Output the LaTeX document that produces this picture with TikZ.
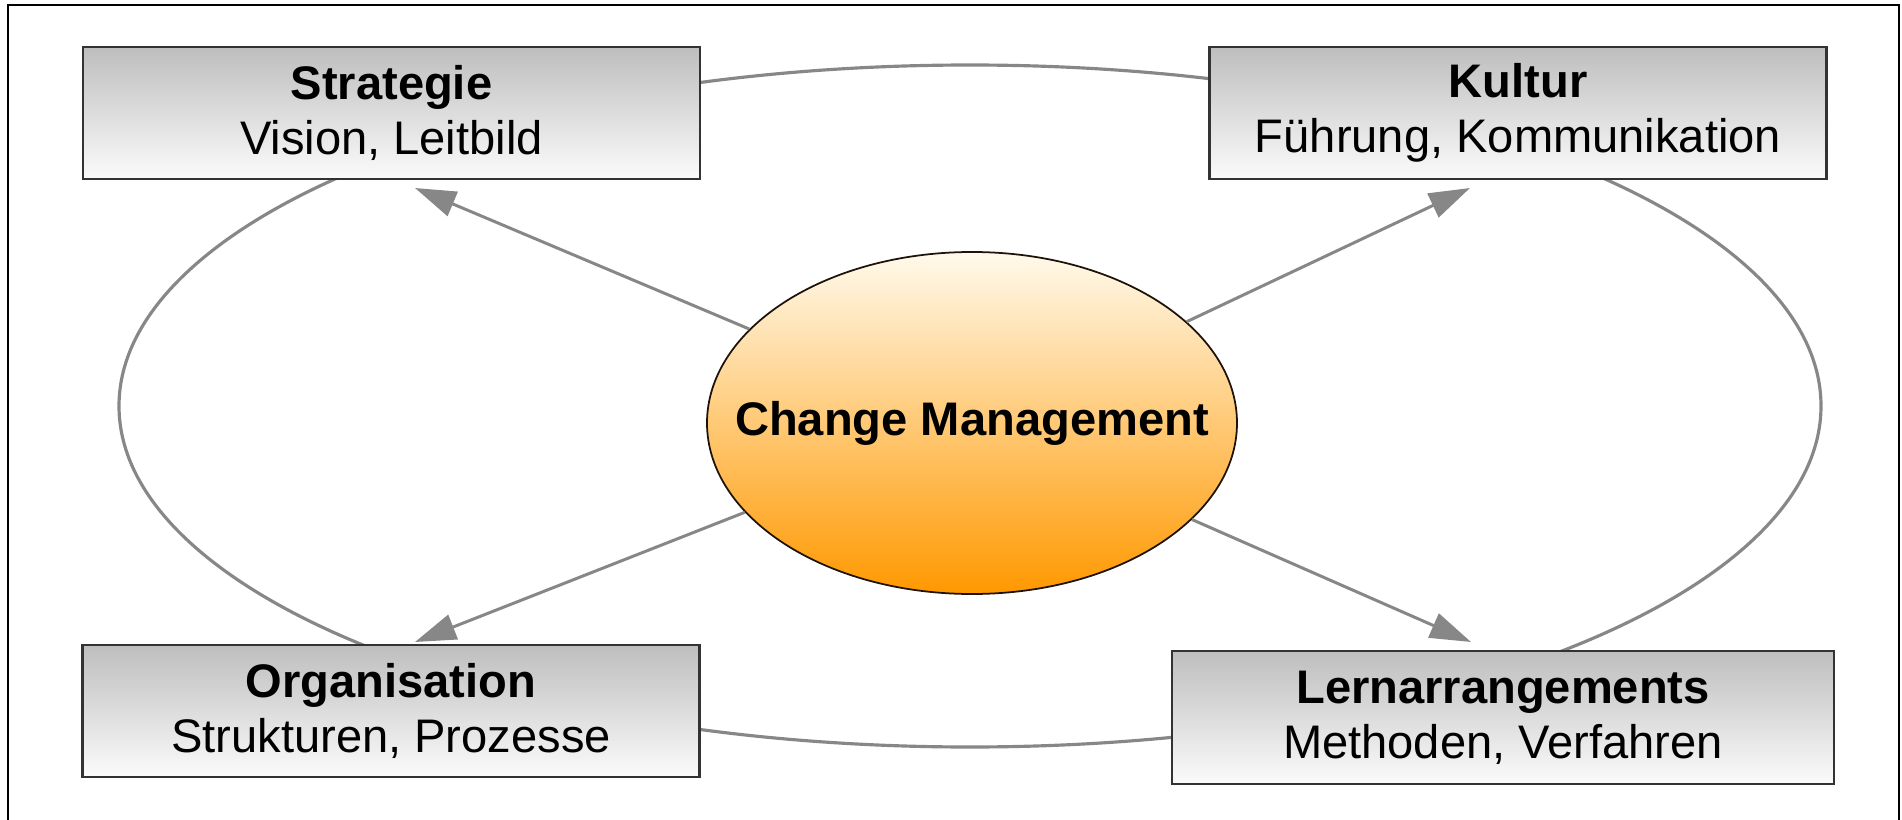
\documentclass[tikz,border=0pt]{standalone}
\usepackage{fontspec}
\setmainfont{Liberation Sans}
\usetikzlibrary{shapes.geometric,arrows.meta}
\definecolor{linegray}{RGB}{135,135,135}
\definecolor{boxtop}{RGB}{190,190,190}
\definecolor{boxbot}{RGB}{251,251,251}
\definecolor{hubtop}{RGB}{255,250,236}
\definecolor{hubmid}{RGB}{252,206,122}
\definecolor{hubbot}{RGB}{255,152,0}
\tikzset{box/.style={draw=black!80, line width=0.6pt, top color=boxtop, bottom color=boxbot, minimum width=6.17cm, minimum height=1.32cm, inner sep=0pt, align=center, font=\fontsize{13.4pt}{15.6pt}\selectfont},
  hub/.style={ellipse, draw=black!85!brown, line width=0.5pt, top color=hubtop, middle color=hubmid, bottom color=hubbot, minimum width=5.30cm, minimum height=3.42cm, inner sep=0pt, font=\fontsize{13.4pt}{15.6pt}\selectfont\bfseries},
  ring/.style={draw=linegray, line width=0.9pt},
  arr/.style={draw=linegray, line width=0.85pt, -{Triangle[length=4.1mm, width=2.6mm]}}}

\begin{document}
\begin{tikzpicture}
  \useasboundingbox (0,0) rectangle (19.02,8.19);
  \draw[line width=0.7pt] (0.08,-0.2) -- (0.08,8.14) -- (18.99,8.14) -- (18.99,-0.2);
  \draw[ring] (9.70,4.13) ellipse [x radius=8.51cm, y radius=3.41cm];
  \node[box] (strat) at (3.915,7.06) {\textbf{Strategie}\\Vision, Leitbild};
  \node[box] (kult) at (15.18,7.06) {\textbf{Kultur}\\Führung, Kommunikation};
  \node[box] (orga) at (3.91,1.08) {\textbf{Organisation}\\Strukturen, Prozesse};
  \node[box, minimum width=6.62cm, minimum height=1.33cm] (lern) at (15.03,1.015) {\textbf{Lernarrangements}\\Methoden, Verfahren};
  \node[hub] (change) at (9.72,3.96) {\makebox[0pt]{Change Management}};
  \coordinate (tS) at (4.15,6.31);
  \coordinate (tK) at (14.70,6.31);
  \coordinate (tO) at (4.15,1.77);
  \coordinate (tL) at (14.71,1.77);
  \draw[arr] (change) -- (tS);
  \draw[arr] (change) -- (tK);
  \draw[arr] (change) -- (tO);
  \draw[arr] (change) -- (tL);
\end{tikzpicture}
\end{document}
